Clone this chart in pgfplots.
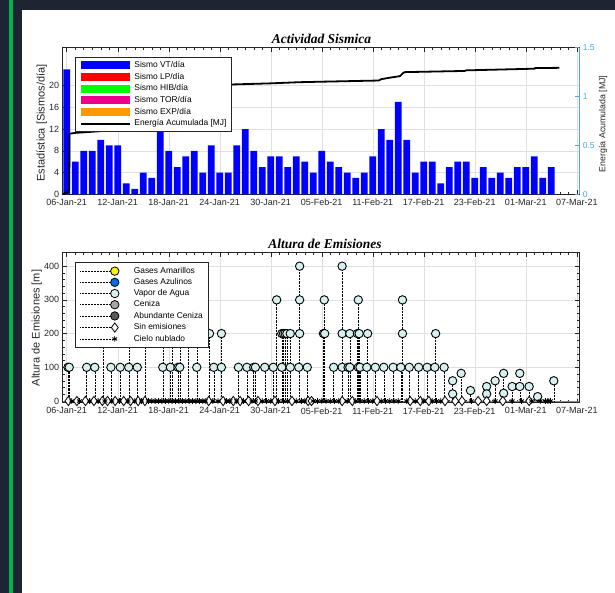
\documentclass[border=0pt]{standalone}
\usepackage{fontspec}
\setmainfont{Liberation Sans}
\newfontfamily\serifbi{Liberation Serif}
\usepackage{pgfplots}
\usepackage{pgfplotstable}
\pgfplotsset{compat=1.18}

\definecolor{bgdark}{RGB}{30,36,50}
\definecolor{stripe}{RGB}{0,178,80}
\definecolor{axgray}{gray}{0.15}
\definecolor{vapor}{RGB}{214,240,240}
\definecolor{enblue}{RGB}{77,166,232}
\definecolor{azul}{RGB}{0,110,230}
\definecolor{naranja}{RGB}{255,153,0}

% sismos VT por dia (dia 0 = 06-Jan-21)
\pgfplotstableread{
day vt
0 23
1 6
2 8
3 8
4 10
5 9
6 9
7 2
8 1
9 4
10 3
11 12
12 8
13 5
14 7
15 8
16 4
17 9
18 4
19 4
20 9
21 12
22 8
23 5
24 7
25 7
26 5
27 7
28 6
29 4
30 8
31 6
32 5
33 4
34 3
35 4
36 7
37 12
38 10
39 17
40 10
41 4
42 6
43 6
44 2
45 5
46 6
47 6
48 3
49 5
50 3
51 4
52 3
53 5
54 5
55 7
56 3
57 5
}\vtdata

% vapor de agua: altura [m]
\pgfplotstableread{
day h
0.15 100
0.3 100
2.35 100
3.3 100
4.3 200
5.2 100
6.3 100
7.3 100
7.3 200
8.3 100
9.2 200
11.3 100
11.4 200
12.2 100
12.4 200
13.1 100
13.3 100
13.3 200
14.3 200
15.3 100
15.3 200
16.8 200
17.3 100
18.2 100
18.2 200
20.2 100
21.2 100
22.0 100
22.2 100
23.3 100
24.3 100
24.7 300
25.3 100
25.3 200
25.5 200
25.7 200
25.9 200
26.3 100
26.3 200
27.3 100
27.4 200
27.4 300
27.4 400
28.3 100
30.2 200
30.35 200
30.3 300
31.4 100
32.4 100
32.4 200
32.4 400
33.1 100
33.3 100
33.3 200
34.3 100
34.2 200
34.4 200
34.3 300
34.5 100
35.3 100
35.4 200
36.3 100
37.3 100
38.4 100
39.3 100
39.5 200
39.5 300
40.3 100
41.4 100
42.4 100
43.3 100
43.4 200
44.4 100
45.4 60
45.4 21
46.4 82
47.5 31
49.4 43
49.4 21
50.4 60
51.4 82
51.4 23
52.4 43
53.3 82
53.3 43
54.4 43
55.4 13
57.3 60
}\vapordata

\pgfplotstableread{
day h
0.2 0
1.2 0
2.2 0
3.2 0
4.2 0
4.8 0
5.7 0
6.7 0
7.5 0
8.4 0
9.2 0
16.7 0
18.4 0
19.6 0
20.4 0
21.4 0
22.5 0
24.5 0
26.5 0
28.4 0
28.8 0
32.4 0
33.6 0
36.5 0
40.4 0
41.6 0
42.6 0
44.5 0
45.7 0
46.5 0
48.4 0
49.4 0
51.3 0
54.4 0
}\sinemis

\pgfplotstableread{
day h
0.6 0
1.5 0
2.7 0
3.7 0
4.5 0
5.3 0
6.2 0
7.2 0
8.0 0
8.8 0
9.6 0
10.0 0
10.4 0
10.8 0
11.2 0
11.6 0
12.0 0
12.4 0
12.8 0
13.2 0
13.6 0
14.0 0
14.4 0
14.8 0
15.2 0
15.6 0
16.0 0
16.3 0
17.2 0
17.8 0
18.8 0
19.2 0
20.0 0
20.8 0
21.8 0
22.2 0
23.0 0
23.5 0
24.0 0
24.9 0
25.5 0
26.0 0
27.0 0
27.6 0
28.0 0
29.0 0
29.5 0
30.0 0
30.5 0
31.0 0
31.5 0
32.0 0
33.0 0
34.0 0
34.5 0
35.0 0
35.5 0
36.0 0
37.0 0
37.5 0
38.0 0
38.5 0
39.0 0
40.0 0
41.0 0
42.0 0
43.0 0
43.5 0
44.0 0
47.6 0
50.4 0
52.4 0
53.5 0
54.7 0
55.7 0
56.3 0
56.6 0
56.9 0
}\nublado

\pgfplotsset{
  fecha/.style={
    scale only axis, width=516.6bp,
    xmin=-0.47, xmax=60.3,
    xtick={0,6,...,60},
    xticklabels={06-Jan-21,12-Jan-21,18-Jan-21,24-Jan-21,30-Jan-21,05-Feb-21,11-Feb-21,17-Feb-21,23-Feb-21,01-Mar-21,07-Mar-21},
    minor x tick num=5,
    tick align=inside,
    major tick length=4bp, minor tick length=2.5bp,
    every tick/.style={axgray, line width=0.4bp},
    axis line style={axgray, line width=0.5bp},
    grid=major,
    major grid style={black!12, line width=0.4bp},
    tick label style={font=\fontsize{9bp}{10bp}\selectfont, text=axgray},
    xticklabel style={yshift=-1.5bp},
    /pgf/number format/assume math mode=true,
  },
  barleg/.style={legend image code/.code={
    \fill[##1, draw=none] (0bp,-4.1bp) rectangle (49bp,4.1bp);
    \path[draw=none, fill=none] (0bp,0bp) -- (53.3bp,0bp);}},
  lineleg/.style={legend image code/.code={
    \draw[##1] (0bp,0bp) -- (49bp,0bp);
    \path[draw=none, fill=none] (0bp,0bp) -- (53.3bp,0bp);}},
  stemleg/.style={legend image code/.code={
    \draw[##1, mark=none] (0bp,0bp) -- (34.3bp,0bp);
    \draw[##1] plot coordinates {(34.3bp,0bp)};
    \path[draw=none, fill=none] (0bp,0bp) -- (53.3bp,0bp);}},
  cajaley/.style={
    legend cell align=left,
    legend style={draw=axgray, line width=0.5bp, fill=white,
      font=\fontsize{8.4bp}{9bp}\selectfont, text=black,
      column sep=0bp, inner xsep=5bp, inner ysep=3.6bp,
      nodes={inner sep=0bp, text height=6.2bp, text depth=1.8bp}},
  },
}

\begin{document}
\begin{tikzpicture}[x=1bp,y=1bp]
\useasboundingbox (0,0) rectangle (615,593);
\fill[bgdark] (0,0) rectangle (615,593);
\fill[stripe] (9.3,0) rectangle (13.3,593);
\fill[white] (21.7,0) rectangle (615,583);

% ---- Actividad Sismica ----
\begin{axis}[fecha,
  at={(62.7bp,398.7bp)}, anchor=south west, height=146.6bp,
  ymin=0, ymax=27, ytick={0,4,...,20}, ytick pos=left,
  ylabel={Estadística [Sismos/día]},
  ylabel style={at={(axis description cs:-0.0407,0.486)}, anchor=center,
    font=\fontsize{11bp}{12bp}\selectfont, text=axgray},
]
\addplot[ybar, bar width=0.8, fill=blue, draw=none] table[x=day, y=vt] {\vtdata};
\end{axis}

\begin{axis}[
  at={(62.7bp,398.7bp)}, anchor=south west,
  scale only axis, width=516.6bp, height=146.6bp,
  xmin=-0.47, xmax=60.3, hide x axis,
  axis y line*=right, ymin=0, ymax=1.5, ytick={0,0.5,1,1.5},
  tick align=inside, major tick length=4bp,
  y axis line style={enblue, line width=0.6bp},
  ytick style={enblue, line width=0.5bp},
  yticklabel style={text=enblue, font=\fontsize{8.5bp}{9bp}\selectfont},
  /pgf/number format/assume math mode=true,
  ylabel={Energía Acumulada [MJ]},
  ylabel style={at={(axis description cs:1.0459,0.48)}, anchor=center,
    font=\fontsize{8.8bp}{9bp}\selectfont, text=axgray},
  cajaley, legend style={at={(axis description cs:0.0238,0.9345)}, anchor=north west, row sep=3.5bp},
]
\addlegendimage{barleg, fill=blue}
\addlegendentry{Sismo VT/día}
\addlegendimage{barleg, fill=red}
\addlegendentry{Sismo LP/día}
\addlegendimage{barleg, fill=green}
\addlegendentry{Sismo HIB/día}
\addlegendimage{barleg, fill=magenta}
\addlegendentry{Sismo TOR/día}
\addlegendimage{barleg, fill=naranja}
\addlegendentry{Sismo EXP/día}
\addplot[black, line width=1.8bp, lineleg] coordinates {
  (-0.4,0) (0.1,0.02) (0.25,0.045) (0.3,0.05) (0.33,0.62) (1,0.628) (2,0.634)
  (3,0.64) (3.9,0.645) (4.1,1.0) (10,1.06) (11.3,1.09) (19.2,1.123) (24,1.135)
  (27.4,1.147) (30,1.152) (36.7,1.164) (37,1.178) (37.8,1.19) (39.2,1.209)
  (39.6,1.243) (39.8,1.25) (46.8,1.262) (47,1.268) (55,1.285) (55.1,1.291)
  (57.95,1.294)
};
\addlegendentry{Energía Acumulada [MJ]}
\end{axis}

% ---- Altura de Emisiones ----
\begin{axis}[fecha,
  at={(62.7bp,190.3bp)}, anchor=south west, height=150bp,
  ymin=-5, ymax=440, ytick={0,100,...,400}, minor y tick num=4,
  ylabel={Altura de Emisiones [m]},
  ylabel style={at={(axis description cs:-0.0503,0.498)}, anchor=center,
    font=\fontsize{11bp}{12bp}\selectfont, text=axgray},
  cajaley, legend style={at={(axis description cs:0.0238,0.936)}, anchor=north west, row sep=2.8bp, inner ysep=4.4bp},
]
\addplot[black!45, line width=0.5bp, forget plot] coordinates {(-0.47,0) (60.3,0)};
\addplot[ycomb, black, densely dotted, line width=0.45bp, mark=*, mark size=4.2bp,
  mark options={solid, fill=vapor, draw=black, line width=0.9bp}, forget plot]
  table[x=day, y=h] {\vapordata};
\addplot[only marks, mark=diamond*, mark size=4.6bp,
  mark options={fill=white, draw=black, line width=0.8bp}, forget plot]
  table[x=day, y=h] {\sinemis};
\addplot[only marks, mark=asterisk, mark size=2.8bp,
  mark options={black, line width=0.9bp}, forget plot]
  table[x=day, y=h] {\nublado};

\addlegendimage{stemleg, black, densely dotted, mark=*, mark size=4.2bp,
  mark options={solid, fill=yellow, draw=black, line width=0.8bp}}
\addlegendentry{Gases Amarillos}
\addlegendimage{stemleg, black, densely dotted, mark=*, mark size=4.2bp,
  mark options={solid, fill=azul, draw=black, line width=0.8bp}}
\addlegendentry{Gases Azulinos}
\addlegendimage{stemleg, black, densely dotted, mark=*, mark size=4.2bp,
  mark options={solid, fill=vapor, draw=black, line width=0.8bp}}
\addlegendentry{Vapor de Agua}
\addlegendimage{stemleg, black, densely dotted, mark=*, mark size=4.2bp,
  mark options={solid, fill=black!35, draw=black, line width=0.8bp}}
\addlegendentry{Ceniza}
\addlegendimage{stemleg, black, densely dotted, mark=*, mark size=4.2bp,
  mark options={solid, fill=black!65, draw=black, line width=0.8bp}}
\addlegendentry{Abundante Ceniza}
\addlegendimage{stemleg, black, densely dotted, mark=diamond*, mark size=4.6bp,
  mark options={solid, fill=white, draw=black, line width=0.8bp}}
\addlegendentry{Sin emisiones}
\addlegendimage{stemleg, black, densely dotted, mark=asterisk, mark size=2.8bp,
  mark options={solid, black, line width=0.9bp}}
\addlegendentry{Cielo nublado}
\end{axis}

\node[font=\serifbi\bfseries\itshape\fontsize{13.5bp}{14bp}\selectfont, anchor=base]
  at (321.5,549.7) {Actividad Sismica};
\node[font=\serifbi\bfseries\itshape\fontsize{13.5bp}{14bp}\selectfont, anchor=base]
  at (325,344.5) {Altura de Emisiones};
\end{tikzpicture}
\end{document}
